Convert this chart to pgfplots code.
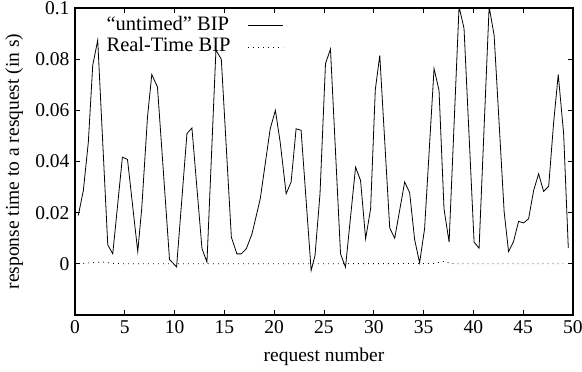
\documentclass[border=0pt]{standalone}
\usepackage{pgfplots}
\pgfplotsset{compat=1.18}
\usepackage{fontspec}
\setmainfont{Liberation Serif}
\newcommand{\ff}{\fontsize{19.5}{22}\selectfont}
\newcommand{\lf}{\fontsize{20.5}{22}\selectfont}
\begin{document}
\begin{tikzpicture}
\begin{axis}[
  scale only axis,
  width=498pt, height=307pt,
  at={(0pt,0pt)}, anchor=south west,
  xmin=0, xmax=50, ymin=-0.02, ymax=0.1,
  xtick={0,5,10,15,20,25,30,35,40,45,50},
  ytick={0,0.02,0.04,0.06,0.08,0.1},
  yticklabels={0,0.02,0.04,0.06,0.08,0.1},
  scaled y ticks=false,
  /pgf/number format/assume math mode=true,
  tick align=inside, tick pos=both,
  major tick length=5pt,
  axis line style={line width=1.2pt},
  tick style={line width=0.8pt, black},
  ticklabel style={font=\ff},
  xticklabel style={yshift=-2pt},
  yticklabel style={xshift=-2pt},
  xlabel={request number},
  ylabel={response time to a resquest (in s)},
  label style={font=\ff},
  xlabel style={at={(axis description cs:0.5,-0.137)}, anchor=center},
  ylabel style={at={(axis description cs:-0.122,0.5)}, anchor=center},
  legend plot pos=right,
  legend cell align=left,
  legend style={draw=none, fill=none, font=\lf,
    at={(axis description cs:0.055,0.985)}, anchor=north west,
    row sep=0pt, column sep=16pt,
    nodes={inner sep=1pt, text height=14.5pt, text depth=5pt}},
  legend image code/.code={\draw[#1] (0pt,0pt) -- (35pt,0pt);},
]
\addplot[black, line width=0.8pt] coordinates {
(0.33,0.0189)(0.84,0.0287)(1.34,0.0476)(1.78,0.0776)(2.28,0.0874)
(3.29,0.0074)(3.79,0.0039)(4.76,0.0417)(5.27,0.0408)(6.3,0.0048)
(6.7,0.0216)(7.28,0.0574)(7.71,0.074)(8.28,0.0691)(9.49,0.0017)
(10.2,-0.0012)(11.24,0.0509)(11.74,0.0531)(12.75,0.0059)(13.25,0.0007)
(14.15,0.0835)(14.69,0.08)(15.7,0.0104)(16.26,0.0039)(16.7,0.0039)
(17.2,0.0059)(17.77,0.0117)(18.6,0.0254)(19.6,0.0528)(20.12,0.0600)
(20.6,0.0476)(21.2,0.0274)(21.7,0.032)(22.2,0.0528)(22.7,0.0522)
(23.71,-0.0026)(24.1,0.0033)(24.6,0.0274)(25.15,0.0783)(25.65,0.0839)
(26.66,0.0039)(27.16,-0.0013)(28.17,0.0378)(28.67,0.0326)(29.18,0.0098)
(29.68,0.0215)(30.15,0.068)(30.6,0.0815)(31.6,0.014)(32.1,0.010)
(33.1,0.032)(33.6,0.0278)(34.1,0.0095)(34.6,0.0004)(35.1,0.0137)
(36.05,0.0763)(36.55,0.0678)(37.05,0.0215)(37.56,0.0085)(38.56,0.1005)
(39.06,0.092)(40.07,0.0085)(40.57,0.0061)(41.58,0.1005)(42.08,0.0894)
(43.09,0.0202)(43.53,0.0048)(44.03,0.0087)(44.54,0.0166)(45.04,0.016)
(45.54,0.0176)(46.05,0.0287)(46.55,0.0352)(47.05,0.0283)(47.56,0.0303)
(48.06,0.0554)(48.52,0.074)(49.06,0.0509)(49.53,0.0061)
};
\addlegendentry{``untimed'' BIP}
\addplot[black, line width=0.8pt, dash pattern=on 0.8pt off 4.2pt] coordinates {
(0.33,0)(1.3,0.0003)(2.3,0.0006)(2.8,0.0007)(3.8,0.0002)(4.8,0)
(36.0,0.0001)(36.6,0.0006)(37.1,0.001)(37.6,0.0003)(38.1,0)(49.0,0)
};
\addlegendentry{Real-Time BIP}
\end{axis}
\pgfresetboundingbox
\path[use as bounding box] (-75pt,-57pt) rectangle (507pt,315pt);
\end{tikzpicture}
\end{document}
